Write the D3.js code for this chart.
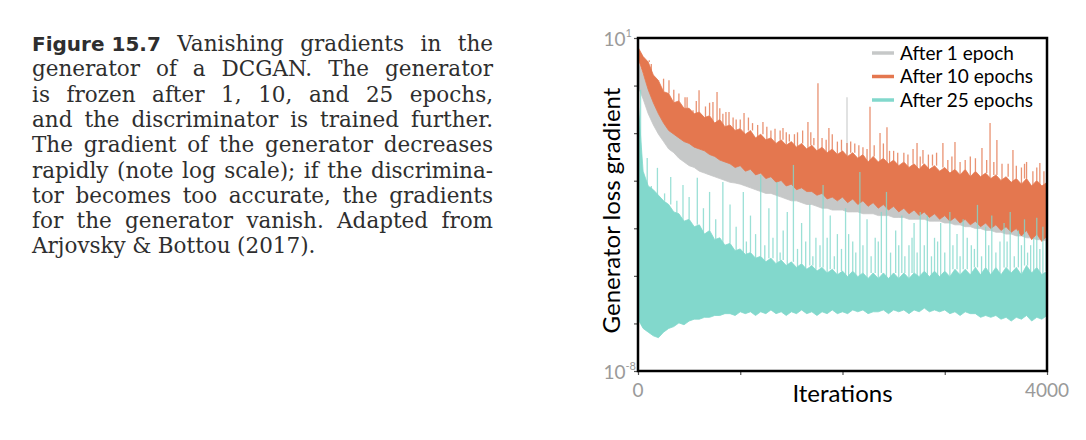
<!DOCTYPE html>
<html>
<head>
<meta charset="utf-8">
<script src="https://cdn.jsdelivr.net/npm/d3@7"></script>
<style>
  body { margin: 0; background: #fff; }
  svg { display: block; }
</style>
</head>
<body>
<div id="chart"></div>
<script>
// log10 of the gradient, dense band read every 50 iterations (top / bottom edge)
const binStep = 50
const afterOneHigh = [
  0.35, 0.0, -0.35, -0.65, -0.9, -1.1, -1.25, -1.35, -1.45, -1.55,
  -1.6, -1.7, -1.75, -1.8, -1.9, -1.95, -2.0, -2.05, -2.1, -2.15,
  -2.2, -2.25, -2.3, -2.35, -2.4, -2.45, -2.5, -2.5, -2.55, -2.6,
  -2.65, -2.7, -2.75, -2.75, -2.8, -2.85, -2.9, -2.9, -2.95, -2.95,
  -3.0, -3.0, -3.05, -3.05, -3.1, -3.1, -3.15, -3.15, -3.2, -3.2,
  -3.25, -3.25, -3.3, -3.3, -3.35, -3.35, -3.4, -3.4, -3.45, -3.45,
  -3.5, -3.5, -3.55, -3.55, -3.6, -3.6, -3.65, -3.65, -3.7, -3.7,
  -3.75, -3.75, -3.8, -3.8, -3.85, -3.85, -3.9, -3.9, -3.95, -3.95,
  -4.0
]
const afterOneLow = [
  -0.3, -0.65, -1.05, -1.35, -1.6, -1.8, -2.0, -2.1, -2.25, -2.35,
  -2.45, -2.5, -2.6, -2.65, -2.7, -2.75, -2.8, -2.85, -2.9, -2.92,
  -2.95, -3.0, -3.05, -3.1, -3.15, -3.2, -3.2, -3.25, -3.3, -3.35,
  -3.4, -3.4, -3.45, -3.5, -3.5, -3.55, -3.6, -3.6, -3.65, -3.65,
  -3.65, -3.7, -3.7, -3.7, -3.75, -3.75, -3.75, -3.8, -3.8, -3.8,
  -3.85, -3.85, -3.85, -3.9, -3.9, -3.9, -3.9, -3.95, -3.95, -3.95,
  -4.0, -4.0, -4.05, -4.05, -4.1, -4.1, -4.15, -4.15, -4.2, -4.2,
  -4.25, -4.25, -4.3, -4.3, -4.35, -4.35, -4.4, -4.4, -4.45, -4.45,
  -4.5
]
const afterTenHigh = [
  0.75, 0.5, 0.35, 0.0, -0.15, -0.45, -0.5, -0.75, -0.7, -0.9,
  -0.9, -1.05, -1.0, -1.15, -1.1, -1.3, -1.2, -1.4, -1.35, -1.5,
  -1.45, -1.6, -1.5, -1.7, -1.6, -1.75, -1.7, -1.85, -1.75, -1.9,
  -1.8, -1.95, -1.85, -2.0, -1.9, -2.05, -1.95, -2.1, -2.0, -2.15,
  -2.05, -2.2, -2.1, -2.25, -2.15, -2.35, -2.2, -2.35, -2.25, -2.4,
  -2.3, -2.45, -2.35, -2.5, -2.4, -2.55, -2.4, -2.55, -2.45, -2.6,
  -2.5, -2.65, -2.55, -2.7, -2.55, -2.75, -2.6, -2.75, -2.65, -2.8,
  -2.7, -2.85, -2.75, -2.9, -2.8, -2.95, -2.8, -3.0, -2.85, -3.0,
  -2.9
]
const afterTenLow = [
  0.45, 0.05, -0.4, -0.75, -1.05, -1.3, -1.5, -1.6, -1.7, -1.8,
  -1.85, -1.95, -2.0, -2.05, -2.15, -2.2, -2.3, -2.35, -2.4, -2.5,
  -2.45, -2.6, -2.55, -2.7, -2.65, -2.8, -2.75, -2.9, -2.85, -3.0,
  -2.95, -3.1, -3.05, -3.15, -3.15, -3.25, -3.2, -3.35, -3.3, -3.4,
  -3.3, -3.45, -3.35, -3.5, -3.4, -3.55, -3.45, -3.6, -3.5, -3.65,
  -3.55, -3.7, -3.6, -3.75, -3.65, -3.8, -3.7, -3.85, -3.75, -3.9,
  -3.8, -3.95, -3.85, -4.0, -3.9, -4.05, -3.95, -4.1, -4.0, -4.15,
  -4.05, -4.2, -4.1, -4.25, -4.15, -4.35, -4.2, -4.45, -4.3, -4.5,
  -4.35
]
const afterTwentyFiveHigh = [
  -0.68, -2.6, -3.0, -3.1, -3.25, -3.4, -3.5, -3.7, -3.75, -3.95,
  -3.9, -4.1, -4.05, -4.3, -4.2, -4.45, -4.4, -4.6, -4.55, -4.75,
  -4.7, -4.85, -4.8, -4.95, -4.9, -5.05, -4.95, -5.1, -5.0, -5.15,
  -5.05, -5.2, -5.1, -5.25, -5.15, -5.3, -5.2, -5.35, -5.25, -5.4,
  -5.3, -5.45, -5.3, -5.45, -5.35, -5.5, -5.35, -5.5, -5.35, -5.5,
  -5.35, -5.5, -5.35, -5.5, -5.35, -5.45, -5.3, -5.45, -5.3, -5.45,
  -5.3, -5.45, -5.25, -5.4, -5.25, -5.4, -5.2, -5.4, -5.2, -5.4,
  -5.2, -5.4, -5.2, -5.35, -5.2, -5.4, -5.15, -5.35, -5.2, -5.4,
  -5.3
]
const afterTwentyFiveLow = [
  -6.6, -6.85, -6.95, -7.05, -7.1, -6.95, -6.85, -6.8, -6.7, -6.75,
  -6.65, -6.6, -6.6, -6.55, -6.55, -6.5, -6.5, -6.45, -6.45, -6.5,
  -6.4, -6.45, -6.4, -6.5, -6.4, -6.45, -6.35, -6.45, -6.4, -6.5,
  -6.4, -6.45, -6.35, -6.45, -6.4, -6.5, -6.4, -6.45, -6.35, -6.45,
  -6.4, -6.45, -6.35, -6.4, -6.35, -6.45, -6.4, -6.4, -6.35, -6.45,
  -6.35, -6.4, -6.35, -6.45, -6.35, -6.4, -6.3, -6.4, -6.35, -6.4,
  -6.35, -6.45, -6.4, -6.5, -6.4, -6.45, -6.45, -6.55, -6.5, -6.55,
  -6.5, -6.6, -6.55, -6.65, -6.55, -6.6, -6.5, -6.65, -6.55, -6.6,
  -6.5
]

// single-iteration spikes above the band: [iteration, log10 gradient]
const afterOneSpikes = [[640, -1.3], [1500, -2.3], [2044, -0.6]]
const afterTenSpikes = [
  [110, 0.4], [130, 0.3], [205, -0.14], [250, -0.1], [303, -0.14], [350, -0.4], [400, -0.5],
  [460, -0.6], [480, -0.6], [538, -0.95], [570, -0.7], [597, -0.41], [660, -0.85], [700, -0.75],
  [733, -0.73], [773, -0.46], [800, -0.9], [830, -1.05], [860, -1.0], [890, -1.0], [930, -1.15],
  [960, -1.2], [1000, -1.2], [1037, -1.03], [1080, -1.15], [1120, -1.3], [1170, -1.35],
  [1222, -1.27], [1260, -1.4], [1300, -1.5], [1340, -1.45], [1390, -1.5], [1418, -1.43],
  [1450, -1.55], [1480, -1.6], [1530, -1.6], [1560, -1.55], [1610, -1.5], [1662, -1.27],
  [1690, -1.55], [1720, -1.7], [1760, -0.22], [1800, -1.7], [1840, -1.75], [1867, -1.43],
  [1900, -1.6], [1950, -1.8], [1990, -1.75], [2044, -1.84], [2080, -1.8], [2120, -1.85],
  [2160, -1.9], [2200, -1.95], [2240, -2.0], [2269, -0.86], [2310, -1.9], [2367, -1.57],
  [2400, -1.85], [2435, -1.41], [2460, -2.05], [2500, -2.05], [2540, -2.1], [2600, -2.1],
  [2640, -2.15], [2690, -2.0], [2729, -1.84], [2760, -2.2], [2787, -2.03], [2840, -2.15],
  [2880, -2.15], [2920, -2.1], [2982, -1.84], [3030, -2.3], [3070, -2.2], [3100, -1.81],
  [3150, -2.35], [3200, -2.3], [3250, -2.2], [3300, -2.25], [3364, -1.97], [3410, -2.3],
  [3443, -1.3], [3480, -2.35], [3510, -1.76], [3560, -2.4], [3620, -2.4], [3667, -2.03],
  [3700, -2.45], [3750, -2.5], [3780, -2.4], [3800, -2.35], [3862, -2.6], [3900, -2.5],
  [3930, -2.38], [3970, -2.6]
]
const afterTwentyFiveSpikes = [
  [25, -0.4], [90, -2.24], [130, -3.0], [190, -2.51], [260, -3.2], [320, -2.76], [380, -3.4],
  [440, -2.97], [500, -3.3], [580, -2.78], [640, -3.6], [700, -3.16], [760, -3.9], [830, -2.89],
  [900, -3.5], [960, -4.1], [1030, -3.16], [1060, -4.5], [1100, -3.8], [1150, -4.3], [1200, -2.7],
  [1240, -4.6], [1280, -3.6], [1320, -4.4], [1360, -2.89], [1390, -4.8], [1420, -4.2],
  [1460, -3.7], [1520, -2.43], [1560, -4.7], [1600, -4.0], [1640, -4.5], [1680, -3.5],
  [1710, -4.9], [1740, -4.4], [1780, -4.6], [1810, -2.97], [1850, -4.4], [1880, -3.8],
  [1920, -4.9], [1950, -4.3], [1990, -4.7], [2030, -3.6], [2060, -4.3], [2100, -4.5],
  [2130, -4.8], [2170, -2.62], [2200, -4.6], [2240, -3.9], [2280, -4.9], [2320, -4.4],
  [2350, -4.5], [2380, -3.7], [2430, -3.16], [2470, -4.8], [2520, -4.2], [2550, -4.6],
  [2580, -3.8], [2610, -4.9], [2650, -4.6], [2680, -4.4], [2700, -4.0], [2730, -4.8],
  [2760, -3.7], [2800, -4.6], [2830, -3.8], [2870, -4.9], [2900, -4.4], [2930, -4.5],
  [2960, -4.0], [3000, -4.8], [3050, -3.7], [3080, -4.6], [3120, -4.3], [3150, -4.9],
  [3180, -3.9], [3220, -4.4], [3260, -4.6], [3290, -4.7], [3320, -3.51], [3360, -4.9],
  [3400, -4.1], [3430, -4.6], [3460, -3.8], [3500, -4.8], [3540, -4.5], [3580, -4.0],
  [3610, -4.5], [3640, -3.7], [3680, -4.9], [3720, -4.2], [3750, -4.6], [3780, -3.9],
  [3810, -4.8], [3840, -4.6], [3870, -4.4], [3900, -3.86], [3930, -4.7], [3960, -4.1],
  [3990, -4.5]
]

const seriesNames = ["After 1 epoch", "After 10 epochs", "After 25 epochs"]
const seriesColors = ["#c6c8c8", "#e4774f", "#82d8cc"]

const xTickValues = [0, 1000, 2000, 3000, 4000]
const xTickLabels = [0, 4000]
const yTickLabels = [{ base: "10", exp: "1", value: 1e1 }, { base: "10", exp: "-8", value: 1e-8 }]

const figLabel = "Figure 15.7"
const captionLines = [
  "Vanishing gradients in the",
  "generator of a DCGAN. The generator",
  "is frozen after 1, 10, and 25 epochs,",
  "and the discriminator is trained further.",
  "The gradient of the generator decreases",
  "rapidly (note log scale); if the discrimina-",
  "tor becomes too accurate, the gradients",
  "for the generator vanish. Adapted from",
  "Arjovsky & Bottou (2017)."
]

const series = [
  { hi: afterOneHigh, lo: afterOneLow, spikes: afterOneSpikes },
  { hi: afterTenHigh, lo: afterTenLow, spikes: afterTenSpikes },
  { hi: afterTwentyFiveHigh, lo: afterTwentyFiveLow, spikes: afterTwentyFiveSpikes }
]

const width = 1086
const height = 440
const plot = { left: 638, right: 1047, top: 38, bottom: 371 }

const svg = d3.select("#chart").append("svg").attr("width", width).attr("height", height)

//caption, justified line by line
const capLeft = 32, capRight = 493, capTop = 51, capLead = 25.3
let capSize = 21.5
const capFont = "'DejaVu Serif', serif"

function layoutCaption(size) {
  svg.selectAll(".caption").remove()
  let widest = 0
  captionLines.forEach((ln, i) => {
    let t = svg.append("text").attr("class", "caption").attr("y", capTop + i * capLead)
      .style("font-family", capFont).style("font-size", size + "px").attr("fill", "#2e2e2e")
    let words = ln.split(" ").map(w => ({ text: w, bold: false }))
    if (i == 0) words.unshift({ text: figLabel, bold: true })
    let spans = words.map(w => {
      let s = t.append("tspan").text(w.text)
      if (w.bold) s.style("font-family", "'DejaVu Sans', sans-serif").style("font-weight", "bold").style("font-size", (size - 1.5) + "px")
      return s
    })
    let widths = spans.map(s => s.node().getComputedTextLength())
    let total = d3.sum(widths)
    let natural = size * 0.3
    widest = Math.max(widest, total + natural * (words.length - 1))
    let gap = i == captionLines.length - 1 ? natural : (capRight - capLeft - total) / (words.length - 1)
    let xpos = capLeft
    spans.forEach((s, k) => {
      s.attr("x", xpos)
      xpos += widths[k] + gap
    })
  })
  return widest
}
let widest = layoutCaption(capSize)
if (widest > capRight - capLeft) layoutCaption(capSize * (capRight - capLeft) / widest)

//scales
const x = d3.scaleLinear().domain([0, 4000]).range([plot.left, plot.right])
const y = d3.scaleLog().domain([1e-8, 1e1]).range([plot.bottom, plot.top])
const yv = e => y(Math.pow(10, e))

svg.append("clipPath").attr("id", "plotclip").append("rect")
  .attr("x", plot.left).attr("y", plot.top)
  .attr("width", plot.right - plot.left).attr("height", plot.bottom - plot.top)

const band = d3.area()
  .x((d, i) => x(i * binStep))
  .y0(d => yv(d[1]))
  .y1(d => yv(d[0]))

const marks = svg.append("g").attr("clip-path", "url(#plotclip)")
series.forEach((s, k) => {
  let g = marks.append("g")
  g.append("path")
    .attr("d", band(d3.zip(s.hi, s.lo)))
    .attr("fill", seriesColors[k])
    .attr("stroke", seriesColors[k])
    .attr("stroke-width", 0.8)
  g.selectAll("line")
    .data(s.spikes)
    .join("line")
    .attr("x1", d => x(d[0]))
    .attr("x2", d => x(d[0]))
    .attr("y1", d => yv(s.hi[Math.round(d[0] / binStep)]))
    .attr("y2", d => yv(d[1]))
    .attr("stroke", seriesColors[k])
    .attr("stroke-width", 1.3)
    .attr("stroke-opacity", 0.8)
})

//ticks
const yTickValues = d3.range(8).map(k => Math.pow(10, 1 - 9 * k / 7))
svg.append("g")
  .attr("transform", `translate(${plot.left},0)`)
  .call(d3.axisLeft(y).tickValues(yTickValues).tickSize(4).tickFormat(""))
  .call(g => g.select(".domain").remove())
  .call(g => g.selectAll("line").attr("stroke", "#555").attr("stroke-width", 1.2))
svg.append("g")
  .attr("transform", `translate(0,${plot.bottom})`)
  .call(d3.axisBottom(x).tickValues(xTickValues).tickSize(4).tickFormat(""))
  .call(g => g.select(".domain").remove())
  .call(g => g.selectAll("line").attr("stroke", "#555").attr("stroke-width", 1.2))

//frame
svg.append("rect")
  .attr("x", plot.left).attr("y", plot.top)
  .attr("width", plot.right - plot.left).attr("height", plot.bottom - plot.top)
  .attr("fill", "none").attr("stroke", "#000").attr("stroke-width", 2.5)

//tick labels
const labelFont = "Lato, 'Open Sans', sans-serif"
svg.append("g").selectAll("text")
  .data(xTickLabels)
  .join("text")
  .attr("x", d => x(d))
  .attr("y", plot.bottom + 26)
  .attr("text-anchor", "middle")
  .style("font-family", labelFont).style("font-size", "19px")
  .attr("fill", "#9a9a9a")
  .text(d => d)

let yl = svg.append("g").selectAll("text")
  .data(yTickLabels)
  .join("text")
  .attr("y", d => y(d.value) + 8)
  .attr("text-anchor", "end")
  .style("font-family", labelFont).style("font-size", "19px")
  .attr("fill", "#9a9a9a")
yl.append("tspan").text(d => d.base)
yl.append("tspan").attr("dy", -9).style("font-size", "11px").text(d => d.exp)
yl.attr("x", d => d.exp.length > 1 ? plot.left - 2 : plot.left - 6)

//axis titles
svg.append("text")
  .attr("x", (plot.left + plot.right) / 2)
  .attr("y", 402)
  .attr("text-anchor", "middle")
  .style("font-family", labelFont).style("font-size", "24px")
  .attr("fill", "#000")
  .text("Iterations")

svg.append("text")
  .attr("transform", `translate(620,${(plot.top + plot.bottom) / 2 + 6}) rotate(-90)`)
  .attr("text-anchor", "middle")
  .style("font-family", labelFont).style("font-size", "24px")
  .attr("fill", "#000")
  .text("Generator loss gradient")

//legend
const legend = svg.append("g").selectAll("g")
  .data(seriesNames)
  .join("g")
  .attr("transform", (d, i) => `translate(872,${53 + i * 23.5})`)
legend.append("line")
  .attr("x1", 0).attr("x2", 22)
  .attr("stroke", (d, i) => seriesColors[i])
  .attr("stroke-width", 3.5)
legend.append("text")
  .attr("x", 28).attr("y", 6.5)
  .style("font-family", labelFont).style("font-size", "19px")
  .attr("fill", "#000")
  .text(d => d)
</script>
</body>
</html>
